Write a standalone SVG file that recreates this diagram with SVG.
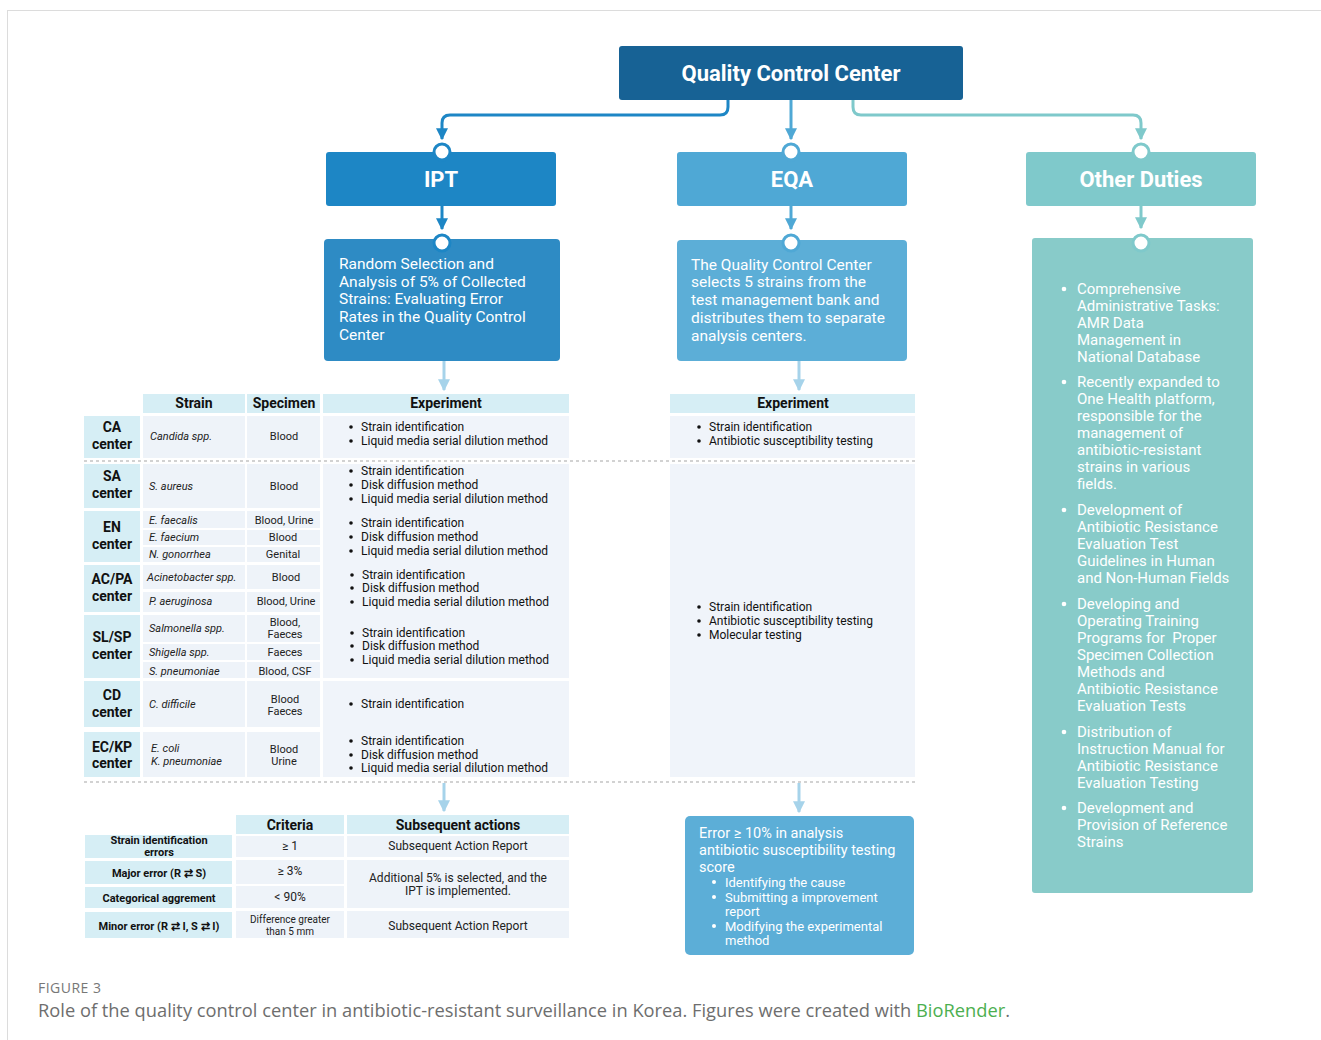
<svg xmlns="http://www.w3.org/2000/svg" width="1321" height="1040" viewBox="0 0 1321 1040">
<defs>
<style>
text{font-family:Roboto,"Liberation Sans",sans-serif;dominant-baseline:central}
.title{font-weight:bold;font-size:22px;fill:#fff;text-anchor:middle}
.desc{font-size:15px;fill:#fff}
.d2{font-size:15.5px;fill:#fff}
.hdr{font-weight:bold;font-size:14px;fill:#111;text-anchor:middle}
.lbl{font-weight:bold;font-size:14px;fill:#111;text-anchor:middle}
.it{font-style:italic;font-size:11px;fill:#222}
.sp{font-size:11px;fill:#222;text-anchor:middle}
.ex{font-size:12px;fill:#111}
.bl{font-weight:bold;font-size:11px;fill:#111;text-anchor:middle}
.cr{font-size:12px;fill:#222;text-anchor:middle}
.hcell{fill:#d6eef5}
.cell{fill:#eef3f9}
.panel{fill:#f0f4fa}
.dash{stroke:#c4c4c4;stroke-width:1.5;stroke-dasharray:3 3;fill:none}
.conn{fill:none;stroke-width:3}
.ring{fill:#fff;stroke-width:3}
.db{fill:#111}
.wb{fill:#fff}
</style>
<marker id="aIPT" viewBox="0 0 10 10" refX="9" refY="5" markerWidth="4" markerHeight="4" orient="auto" markerUnits="strokeWidth"><path d="M0,0 L10,5 L0,10 z" fill="#1d86c5"/></marker>
<marker id="aEQA" viewBox="0 0 10 10" refX="9" refY="5" markerWidth="4" markerHeight="4" orient="auto" markerUnits="strokeWidth"><path d="M0,0 L10,5 L0,10 z" fill="#4fa8d5"/></marker>
<marker id="aOTH" viewBox="0 0 10 10" refX="9" refY="5" markerWidth="4" markerHeight="4" orient="auto" markerUnits="strokeWidth"><path d="M0,0 L10,5 L0,10 z" fill="#7fc9cb"/></marker>
<marker id="aLt" viewBox="0 0 10 10" refX="9" refY="5" markerWidth="4" markerHeight="4" orient="auto" markerUnits="strokeWidth"><path d="M0,0 L10,5 L0,10 z" fill="#a6d3ea"/></marker>
</defs>
<rect x="7.5" y="10.5" width="1320" height="1040" fill="#fff" stroke="#dcdcdc"/>

<g id="connectors">
<path class="conn" stroke="#1d86c5" d="M728,100 V107 Q728,115 720,115 H450 Q442,115 442,123 V139" marker-end="url(#aIPT)"/>
<path class="conn" stroke="#4fa8d5" d="M791,100 V139" marker-end="url(#aEQA)"/>
<path class="conn" stroke="#7fc9cb" d="M853,100 V107 Q853,115 861,115 H1133 Q1141,115 1141,123 V139" marker-end="url(#aOTH)"/>
<path class="conn" stroke="#1d86c5" d="M442,206 V229" marker-end="url(#aIPT)"/>
<path class="conn" stroke="#4fa8d5" d="M791,206 V229" marker-end="url(#aEQA)"/>
<path class="conn" stroke="#7fc9cb" d="M1141,206 V228" marker-end="url(#aOTH)"/>
<path class="conn" stroke="#a6d3ea" d="M444,361 V390" marker-end="url(#aLt)"/>
<path class="conn" stroke="#a6d3ea" d="M799,361 V390" marker-end="url(#aLt)"/>
<path class="conn" stroke="#a6d3ea" d="M444,783 V811" marker-end="url(#aLt)"/>
<path class="conn" stroke="#a6d3ea" d="M799,783 V812" marker-end="url(#aLt)"/>
</g>

<g id="qcc">
<rect x="619" y="46" width="344" height="54" rx="3" fill="#176295"/>
<text class="title" x="791" y="73" textLength="219" lengthAdjust="spacingAndGlyphs">Quality Control Center</text>
</g>

<g id="ipt">
<rect x="326" y="152" width="230" height="54" rx="3" fill="#1d86c5"/>
<text class="title" x="441" y="179">IPT</text>
<circle class="ring" cx="442" cy="152" r="8" stroke="#1d86c5"/>
</g>
<g id="eqa">
<rect x="677" y="152" width="230" height="54" rx="3" fill="#4fa8d5"/>
<text class="title" x="792" y="179">EQA</text>
<circle class="ring" cx="791" cy="152" r="8" stroke="#4fa8d5"/>
</g>
<g id="other">
<rect x="1026" y="152" width="230" height="54" rx="3" fill="#7fc9cb"/>
<text class="title" x="1141" y="179" textLength="123" lengthAdjust="spacingAndGlyphs">Other Duties</text>
<circle class="ring" cx="1141" cy="152" r="8" stroke="#7fc9cb"/>
</g>

<g id="ipt-desc">
<rect x="324" y="239" width="236" height="122" rx="4" fill="#2e8bc4"/>
<circle class="ring" cx="442" cy="243" r="8" stroke="#1d86c5"/>
<text class="d2" x="339" y="264">Random Selection and</text>
<text class="d2" x="339" y="282">Analysis of 5% of Collected</text>
<text class="d2" x="339" y="299">Strains: Evaluating Error</text>
<text class="d2" x="339" y="317">Rates in the Quality Control</text>
<text class="d2" x="339" y="335">Center</text>
</g>
<g id="eqa-desc">
<rect x="677" y="240" width="230" height="121" rx="4" fill="#5caed7"/>
<circle class="ring" cx="791" cy="243" r="8" stroke="#4fa8d5"/>
<text class="d2" x="691" y="265">The Quality Control Center</text>
<text class="d2" x="691" y="282">selects 5 strains from the</text>
<text class="d2" x="691" y="300">test management bank and</text>
<text class="d2" x="691" y="318">distributes them to separate</text>
<text class="d2" x="691" y="336">analysis centers.</text>
</g>
<g id="other-desc">
<rect x="1032" y="238" width="221" height="655" rx="3" fill="#88cbc9"/>
<circle class="ring" cx="1141" cy="243" r="8" stroke="#7fc9cb"/>
<circle class="wb" cx="1064" cy="289" r="2.3"/>
<circle class="wb" cx="1064" cy="382" r="2.3"/>
<circle class="wb" cx="1064" cy="510" r="2.3"/>
<circle class="wb" cx="1064" cy="604" r="2.3"/>
<circle class="wb" cx="1064" cy="732" r="2.3"/>
<circle class="wb" cx="1064" cy="808" r="2.3"/>
<text class="desc" x="1077" y="289">Comprehensive</text>
<text class="desc" x="1077" y="306">Administrative Tasks:</text>
<text class="desc" x="1077" y="323">AMR Data</text>
<text class="desc" x="1077" y="340">Management in</text>
<text class="desc" x="1077" y="357">National Database</text>
<text class="desc" x="1077" y="382">Recently expanded to</text>
<text class="desc" x="1077" y="399">One Health platform,</text>
<text class="desc" x="1077" y="416">responsible for the</text>
<text class="desc" x="1077" y="433">management of</text>
<text class="desc" x="1077" y="450">antibiotic-resistant</text>
<text class="desc" x="1077" y="467">strains in various</text>
<text class="desc" x="1077" y="484">fields.</text>
<text class="desc" x="1077" y="510">Development of</text>
<text class="desc" x="1077" y="527">Antibiotic Resistance</text>
<text class="desc" x="1077" y="544">Evaluation Test</text>
<text class="desc" x="1077" y="561">Guidelines in Human</text>
<text class="desc" x="1077" y="578">and Non-Human Fields</text>
<text class="desc" x="1077" y="604">Developing and</text>
<text class="desc" x="1077" y="621">Operating Training</text>
<text class="desc" x="1077" y="638" xml:space="preserve">Programs for  Proper</text>
<text class="desc" x="1077" y="655">Specimen Collection</text>
<text class="desc" x="1077" y="672">Methods and</text>
<text class="desc" x="1077" y="689">Antibiotic Resistance</text>
<text class="desc" x="1077" y="706">Evaluation Tests</text>
<text class="desc" x="1077" y="732">Distribution of</text>
<text class="desc" x="1077" y="749">Instruction Manual for</text>
<text class="desc" x="1077" y="766">Antibiotic Resistance</text>
<text class="desc" x="1077" y="783">Evaluation Testing</text>
<text class="desc" x="1077" y="808">Development and</text>
<text class="desc" x="1077" y="825">Provision of Reference</text>
<text class="desc" x="1077" y="842">Strains</text>
</g>

<g id="ipt-table">
<rect class="hcell" x="143" y="394" width="102" height="19"/>
<rect class="hcell" x="247" y="394" width="73" height="19"/>
<rect class="hcell" x="323" y="394" width="246" height="19"/>
<text class="hdr" x="194" y="403">Strain</text>
<text class="hdr" x="284" y="403">Specimen</text>
<text class="hdr" x="446" y="403">Experiment</text>

<rect class="panel" x="323" y="416" width="246" height="42"/>
<rect class="panel" x="323" y="464" width="246" height="214"/>
<rect class="panel" x="323" y="681" width="246" height="96"/>

<rect class="hcell" x="84" y="416" width="56" height="42"/>
<rect class="hcell" x="84" y="464" width="56" height="44"/>
<rect class="hcell" x="84" y="511" width="56" height="51"/>
<rect class="hcell" x="84" y="565" width="56" height="47"/>
<rect class="hcell" x="84" y="615" width="56" height="63"/>
<rect class="hcell" x="84" y="681" width="56" height="46"/>
<rect class="hcell" x="84" y="732" width="56" height="45"/>
<text class="lbl" x="112" y="427">CA</text><text class="lbl" x="112" y="444">center</text>
<text class="lbl" x="112" y="476">SA</text><text class="lbl" x="112" y="493">center</text>
<text class="lbl" x="112" y="527">EN</text><text class="lbl" x="112" y="544">center</text>
<text class="lbl" x="112" y="579">AC/PA</text><text class="lbl" x="112" y="596">center</text>
<text class="lbl" x="112" y="637">SL/SP</text><text class="lbl" x="112" y="654">center</text>
<text class="lbl" x="112" y="695">CD</text><text class="lbl" x="112" y="712">center</text>
<text class="lbl" x="112" y="747">EC/KP</text><text class="lbl" x="112" y="763">center</text>

<rect class="cell" x="143" y="416" width="102" height="42"/><rect class="cell" x="247" y="416" width="73" height="42"/>
<rect class="cell" x="143" y="464" width="102" height="44"/><rect class="cell" x="247" y="464" width="73" height="44"/>
<rect class="cell" x="143" y="511" width="102" height="17"/><rect class="cell" x="247" y="511" width="73" height="17"/>
<rect class="cell" x="143" y="530" width="102" height="15"/><rect class="cell" x="247" y="530" width="73" height="15"/>
<rect class="cell" x="143" y="547" width="102" height="15"/><rect class="cell" x="247" y="547" width="73" height="15"/>
<rect class="cell" x="143" y="565" width="102" height="24"/><rect class="cell" x="247" y="565" width="73" height="24"/>
<rect class="cell" x="143" y="592" width="102" height="20"/><rect class="cell" x="247" y="592" width="73" height="20"/>
<rect class="cell" x="143" y="615" width="102" height="27"/><rect class="cell" x="247" y="615" width="73" height="27"/>
<rect class="cell" x="143" y="644" width="102" height="16"/><rect class="cell" x="247" y="644" width="73" height="16"/>
<rect class="cell" x="143" y="662" width="102" height="16"/><rect class="cell" x="247" y="662" width="73" height="16"/>
<rect class="cell" x="143" y="681" width="102" height="46"/><rect class="cell" x="247" y="681" width="73" height="46"/>
<rect class="cell" x="143" y="732" width="102" height="45"/><rect class="cell" x="247" y="732" width="73" height="45"/>

<text class="it" x="150" y="436">Candida spp.</text><text class="sp" x="284" y="436">Blood</text>
<text class="it" x="149" y="486">S. aureus</text><text class="sp" x="284" y="486">Blood</text>
<text class="it" x="149" y="520">E. faecalis</text><text class="sp" x="284" y="520">Blood, Urine</text>
<text class="it" x="149" y="537">E. faecium</text><text class="sp" x="283" y="537">Blood</text>
<text class="it" x="149" y="554">N. gonorrhea</text><text class="sp" x="283" y="554">Genital</text>
<text class="it" x="147" y="577">Acinetobacter spp.</text><text class="sp" x="286" y="577">Blood</text>
<text class="it" x="149" y="601">P. aeruginosa</text><text class="sp" x="286" y="601">Blood, Urine</text>
<text class="it" x="149" y="628">Salmonella spp.</text><text class="sp" x="285" y="622">Blood,</text><text class="sp" x="285" y="634">Faeces</text>
<text class="it" x="149" y="652">Shigella spp.</text><text class="sp" x="285" y="652">Faeces</text>
<text class="it" x="149" y="671">S. pneumoniae</text><text class="sp" x="285" y="671">Blood, CSF</text>
<text class="it" x="149" y="704">C. difficile</text><text class="sp" x="285" y="699">Blood</text><text class="sp" x="285" y="711">Faeces</text>
<text class="it" x="151" y="748">E. coli</text><text class="it" x="151" y="761">K. pneumoniae</text>
<text class="sp" x="284" y="749">Blood</text><text class="sp" x="284" y="761">Urine</text>

<circle class="db" cx="351" cy="427" r="1.8"/><text class="ex" x="361" y="427">Strain identification</text>
<circle class="db" cx="351" cy="441" r="1.8"/><text class="ex" x="361" y="441">Liquid media serial dilution method</text>
<circle class="db" cx="351" cy="471" r="1.8"/><text class="ex" x="361" y="471">Strain identification</text>
<circle class="db" cx="351" cy="485" r="1.8"/><text class="ex" x="361" y="485">Disk diffusion method</text>
<circle class="db" cx="351" cy="499" r="1.8"/><text class="ex" x="361" y="499">Liquid media serial dilution method</text>
<circle class="db" cx="351" cy="523" r="1.8"/><text class="ex" x="361" y="523">Strain identification</text>
<circle class="db" cx="351" cy="537" r="1.8"/><text class="ex" x="361" y="537">Disk diffusion method</text>
<circle class="db" cx="351" cy="551" r="1.8"/><text class="ex" x="361" y="551">Liquid media serial dilution method</text>
<circle class="db" cx="352" cy="575" r="1.8"/><text class="ex" x="362" y="575">Strain identification</text>
<circle class="db" cx="352" cy="588" r="1.8"/><text class="ex" x="362" y="588">Disk diffusion method</text>
<circle class="db" cx="352" cy="602" r="1.8"/><text class="ex" x="362" y="602">Liquid media serial dilution method</text>
<circle class="db" cx="352" cy="633" r="1.8"/><text class="ex" x="362" y="633">Strain identification</text>
<circle class="db" cx="352" cy="646" r="1.8"/><text class="ex" x="362" y="646">Disk diffusion method</text>
<circle class="db" cx="352" cy="660" r="1.8"/><text class="ex" x="362" y="660">Liquid media serial dilution method</text>
<circle class="db" cx="351" cy="704" r="1.8"/><text class="ex" x="361" y="704">Strain identification</text>
<circle class="db" cx="351" cy="741" r="1.8"/><text class="ex" x="361" y="741">Strain identification</text>
<circle class="db" cx="351" cy="755" r="1.8"/><text class="ex" x="361" y="755">Disk diffusion method</text>
<circle class="db" cx="351" cy="768" r="1.8"/><text class="ex" x="361" y="768">Liquid media serial dilution method</text>
</g>

<g id="eqa-table">
<rect class="hcell" x="670" y="394" width="245" height="19"/>
<text class="hdr" x="793" y="403">Experiment</text>
<rect class="panel" x="670" y="416" width="245" height="42"/>
<rect class="panel" x="670" y="464" width="245" height="313"/>
<circle class="db" cx="699" cy="427" r="1.8"/><text class="ex" x="709" y="427">Strain identification</text>
<circle class="db" cx="699" cy="441" r="1.8"/><text class="ex" x="709" y="441">Antibiotic susceptibility testing</text>
<circle class="db" cx="699" cy="607" r="1.8"/><text class="ex" x="709" y="607">Strain identification</text>
<circle class="db" cx="699" cy="621" r="1.8"/><text class="ex" x="709" y="621">Antibiotic susceptibility testing</text>
<circle class="db" cx="699" cy="635" r="1.8"/><text class="ex" x="709" y="635">Molecular testing</text>
</g>

<g id="dividers">
<line class="dash" x1="84" y1="461" x2="915" y2="461"/>
<line class="dash" x1="84" y1="782" x2="915" y2="782"/>
</g>

<g id="criteria-table">
<rect class="hcell" x="236" y="815" width="108" height="19"/>
<rect class="hcell" x="347" y="815" width="222" height="19"/>
<text class="hdr" x="290" y="825">Criteria</text>
<text class="hdr" x="458" y="825">Subsequent actions</text>

<rect class="hcell" x="85" y="835" width="147" height="23"/>
<rect class="hcell" x="85" y="861" width="147" height="23"/>
<rect class="hcell" x="85" y="887" width="147" height="21"/>
<rect class="hcell" x="85" y="912" width="147" height="26"/>
<text class="bl" x="159" y="840">Strain identification</text>
<text class="bl" x="159" y="852">errors</text>
<text class="bl" x="159" y="873">Major error (R ⇄ S)</text>
<text class="bl" x="159" y="898">Categorical aggrement</text>
<text class="bl" x="159" y="926">Minor error (R ⇄ I, S ⇄ I)</text>

<rect class="cell" x="236" y="836" width="108" height="21"/>
<rect class="cell" x="236" y="860" width="108" height="24"/>
<rect class="cell" x="236" y="886" width="108" height="22"/>
<rect class="cell" x="236" y="911" width="108" height="27"/>
<text class="cr" x="290" y="846">≥ 1</text>
<text class="cr" x="290" y="871">≥ 3%</text>
<text class="cr" x="290" y="897">&lt; 90%</text>
<text class="cr" x="290" y="919" style="font-size:10px">Difference greater</text>
<text class="cr" x="290" y="931" style="font-size:10px">than 5 mm</text>

<rect class="cell" x="347" y="836" width="222" height="21"/>
<rect class="cell" x="347" y="860" width="222" height="48"/>
<rect class="cell" x="347" y="911" width="222" height="27"/>
<text class="cr" x="458" y="846">Subsequent Action Report</text>
<text class="cr" x="458" y="878">Additional 5% is selected, and the</text>
<text class="cr" x="458" y="891">IPT is implemented.</text>
<text class="cr" x="458" y="926">Subsequent Action Report</text>
</g>

<g id="eqa-error">
<rect x="685" y="816" width="229" height="139" rx="5" fill="#5caed7"/>
<text class="desc" x="699" y="833" style="font-size:14.5px">Error ≥ 10% in analysis</text>
<text class="desc" x="699" y="850" style="font-size:14.5px">antibiotic susceptibility testing</text>
<text class="desc" x="699" y="867" style="font-size:14.5px">score</text>
<circle class="wb" cx="714" cy="882" r="2"/><text class="desc" x="725" y="882" style="font-size:13px">Identifying the cause</text>
<circle class="wb" cx="714" cy="897" r="2"/><text class="desc" x="725" y="897" style="font-size:13px">Submitting a improvement</text>
<text class="desc" x="725" y="911" style="font-size:13px">report</text>
<circle class="wb" cx="714" cy="926" r="2"/><text class="desc" x="725" y="926" style="font-size:13px">Modifying the experimental</text>
<text class="desc" x="725" y="940" style="font-size:13px">method</text>
</g>

<g id="caption">
<text x="38" y="987" textLength="63" style="font-family:'Open Sans','Liberation Sans',sans-serif;font-size:14px;fill:#777">FIGURE 3</text>
<text x="38" y="1010" textLength="972" lengthAdjust="spacingAndGlyphs" style="font-family:'Open Sans','Liberation Sans',sans-serif;font-size:18px;fill:#6e6e6e">Role of the quality control center in antibiotic-resistant surveillance in Korea. Figures were created with <tspan fill="#4caf50">BioRender</tspan>.</text>
</g>
</svg>
